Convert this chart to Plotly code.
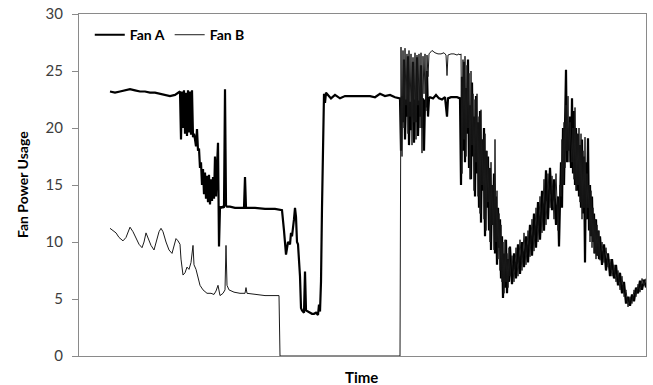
import plotly.graph_objects as go

# ---- data (time index, fan power usage) ----
fan_a_t = [0, 5, 10, 15, 20, 25, 30, 35, 40, 45, 50, 55, 60, 65, 68, 70,
           71, 72, 73, 74, 75, 76, 77, 78, 79, 80, 81, 82, 83,
           84, 85, 86, 87, 88, 89, 90, 91, 92, 93, 94, 95, 96, 97, 98, 99, 100,
           101, 102, 103, 104, 105, 106, 107, 108, 109, 110, 111, 113, 114, 115, 116, 117,
           120, 125, 130, 134, 135, 136, 145, 155, 165, 172,
           174, 175, 176, 178, 180, 181, 182, 184, 185, 186, 187, 188, 190, 191, 192, 194,
           195, 196, 198, 200, 202, 204, 206, 208, 209, 210, 211, 212, 213, 214, 215, 216,
           221, 225, 230, 235, 240, 250, 260, 265, 270, 275, 280, 285, 290,
           291, 292, 293, 294, 295, 296, 297, 298, 299, 300, 301, 302, 303, 304, 305, 306,
           307, 308, 309, 310, 311, 312, 313, 314, 315, 316, 317, 318, 319, 320, 323, 326,
           329, 332, 335, 337, 338, 341, 344, 347, 350,
           351, 352, 353, 354, 355, 356, 357, 358, 359, 360, 361, 362, 363, 364, 365, 366,
           367, 368, 369, 370, 371, 372, 373, 374, 375, 376, 377, 378, 379, 380, 381, 382,
           383, 384, 385, 386, 387, 388, 389, 390, 391, 392, 393, 394, 395, 396, 397, 398,
           399, 400,
           402, 404, 406, 408, 410, 412, 414, 416, 418, 420, 422, 424, 426, 428, 430, 432,
           434, 436, 438, 440, 442, 444, 446, 448, 449, 450,
           451, 452, 453, 454, 455, 456, 457, 458, 459, 460, 461, 462, 463, 464, 465, 466,
           467, 468, 469, 470, 471, 472, 473, 474, 475, 476, 477, 478, 479, 480, 481, 482,
           483, 484, 485, 486, 487, 488, 489, 490,
           492, 494, 496, 498, 500, 502, 504, 506, 508, 510, 512, 514, 516, 518, 520, 522,
           524, 526, 528, 530, 532, 534, 536]
fan_a = [23.2, 23.1, 23.2, 23.3, 23.4, 23.3, 23.2, 23.2, 23.1, 23.1, 23.0, 22.9, 22.8, 22.9, 23.1, 23.2,
         19.0, 23.2, 20.0, 23.3, 19.5, 23.1, 19.3, 23.3, 19.6, 23.2, 19.4, 23.3, 19.2,
         19.5, 19.0, 18.4, 19.9, 18.0, 18.2, 16.5, 17.0, 15.0, 16.4, 14.2, 16.1, 13.8, 15.8, 13.5, 15.9, 13.3,
         15.5, 13.6, 15.7, 13.8, 17.5, 14.0, 16.5, 18.7, 9.6, 13.1, 13.0, 13.1, 13.0, 23.4, 13.2, 13.1,
         13.1, 13.0, 13.0, 13.0, 15.7, 13.0, 13.0, 12.9, 12.9, 12.8,
         11.0, 9.5, 8.9, 10.0, 9.8, 10.8, 10.5, 12.0, 13.0, 12.2, 10.0, 9.8, 7.0, 4.2, 4.0, 3.8,
         7.4, 4.0, 3.9, 3.8, 3.7, 3.7, 3.8, 3.6, 4.5, 3.9, 6.5, 13.0, 21.0, 23.0, 22.2, 23.1,
         22.6, 22.9, 22.6, 22.8, 22.8, 22.8, 22.8, 22.7, 23.0, 22.8, 22.9, 22.7, 22.6,
         18.0, 22.8, 20.5, 26.0, 19.0, 22.5, 21.0, 26.3, 18.5, 22.3, 19.8, 22.0, 25.8, 18.7, 22.5, 20.5,
         26.2, 19.3, 22.4, 21.0, 25.5, 20.0, 22.6, 18.0, 22.5, 21.8, 25.0, 21.0, 22.6, 22.7, 22.6, 22.9,
         22.6, 22.5, 22.7, 21.0, 22.6, 22.7, 22.7, 22.7, 22.6,
         15.0, 24.5, 18.0, 25.8, 17.0, 23.5, 19.5, 26.0, 16.5, 22.0, 15.5, 24.0, 17.5, 21.0, 14.0, 22.8,
         16.0, 20.5, 13.0, 21.5, 11.7, 19.0, 14.5, 20.0, 10.5, 18.0, 13.0, 17.5, 11.0, 16.5, 9.3, 15.0,
         11.5, 16.0, 9.0, 14.0, 8.0, 13.0, 9.5, 12.0, 6.8, 10.5, 5.1, 9.0, 6.0, 10.2, 5.5, 8.5,
         6.5, 9.6,
         6.3, 9.0, 6.8, 9.8, 7.2, 10.0, 7.8, 10.5, 8.2, 11.5, 8.8, 12.5, 9.5, 13.5, 10.2, 14.5,
         11.0, 16.3, 12.0, 16.5, 12.8, 15.5, 11.5, 14.0, 9.6, 13.5,
         17.0, 13.0, 20.0, 15.0, 21.5, 25.1, 17.0, 20.0, 18.0, 21.0, 16.5, 22.6, 16.0, 21.5, 15.0, 20.0,
         14.5, 19.5, 14.0, 18.5, 13.0, 19.0, 12.5, 17.5, 8.2, 17.0, 12.0, 19.1, 11.0, 15.0, 10.5, 14.0,
         10.0, 12.5, 9.0, 12.0, 8.8, 11.0, 8.5, 10.5,
         8.0, 9.8, 7.5, 9.0, 7.0, 8.5, 6.8, 8.0, 6.2, 7.3, 5.5, 6.5, 4.6, 5.2, 4.4, 5.4,
         4.8, 6.0, 5.5, 6.6, 5.8, 6.7, 6.0]

fan_b_t = [0, 3, 6, 9, 13, 16, 20, 23, 26, 29, 32, 34, 36, 38, 41, 44,
           46, 49, 51, 53, 56, 59, 62, 64, 66, 68, 70, 71, 72, 73, 75, 77,
           79, 81, 83, 84, 86, 88, 90, 93, 97, 101, 104, 106, 108, 110, 113, 115,
           116, 117, 119, 124, 130, 135, 136, 137, 145, 155, 165, 169, 170, 290,
           291, 292, 293, 294, 295, 296, 297, 298, 299, 300, 301, 302, 303, 304, 305, 306,
           307, 308, 309, 310, 311, 312, 313, 314, 315, 316, 317, 318, 319, 320, 322, 325,
           328, 331, 334, 336, 337, 338, 341, 344, 347, 349, 350,
           351, 352, 353, 354, 355, 356, 357, 358, 359, 360, 361, 362, 363, 364, 365, 366,
           367, 368, 369, 370, 371, 372, 373, 374, 375, 376, 377, 378, 379, 380, 381, 382,
           383, 384, 385, 386, 387, 388, 389, 390, 391, 392, 393, 394, 395, 396, 397, 398,
           399, 400,
           402, 404, 406, 408, 410, 412, 414, 416, 418, 420, 422, 424, 426, 428, 430, 432,
           434, 436, 438, 440, 442, 444, 446, 448, 450,
           451, 452, 453, 454, 455, 456, 457, 458, 459, 460, 461, 462, 463, 464, 465, 466,
           467, 468, 469, 470, 471, 472, 473, 474, 475, 476, 477, 478, 479, 480, 481, 482,
           483, 484, 485, 486, 487, 488, 489, 490,
           492, 494, 496, 498, 500, 502, 504, 506, 508, 510, 512, 514, 516, 518, 520, 522,
           524, 526, 528, 530, 532, 534, 536]
fan_b = [11.2, 11.0, 10.8, 10.4, 10.1, 10.4, 11.3, 10.9, 10.3, 9.8, 9.5, 10.0, 10.8, 10.4, 9.7, 9.3,
         9.9, 10.9, 11.2, 10.9, 10.0, 9.3, 9.0, 9.6, 10.3, 10.1, 9.8, 8.5, 7.5, 7.1, 7.3, 7.8,
         7.6, 8.2, 9.7, 8.0, 7.6, 7.0, 6.2, 5.8, 5.5, 5.5, 5.4, 5.7, 6.2, 5.3, 5.5, 5.8,
         9.7, 6.2, 5.8, 5.6, 5.5, 5.5, 6.0, 5.5, 5.4, 5.3, 5.3, 5.3, 0.0, 0.0,
         27.1, 17.5, 26.8, 20.0, 27.0, 22.0, 26.5, 19.5, 26.8, 21.0, 26.5, 18.5, 26.2, 20.5, 26.6, 19.0,
         26.4, 22.0, 26.5, 20.0, 26.6, 17.8, 26.3, 23.0, 26.5, 21.5, 26.4, 24.5, 26.5, 26.6, 26.8, 26.6,
         26.5, 26.5, 26.6, 26.4, 24.6, 26.4, 26.5, 26.5, 26.4, 26.5, 26.4,
         26.5, 16.0, 26.0, 19.0, 26.3, 17.5, 25.5, 20.0, 24.8, 15.5, 25.0, 18.5, 23.0, 14.5, 22.5, 17.0,
         23.0, 14.0, 21.0, 12.5, 21.6, 15.0, 19.0, 12.0, 19.5, 11.0, 18.0, 13.5, 16.5, 10.0, 17.0, 11.5,
         15.0, 9.3, 19.0, 10.0, 14.5, 8.5, 12.5, 7.5, 11.5, 6.5, 10.0, 5.5, 10.2, 6.5, 9.0, 6.0,
         9.5, 7.0,
         8.8, 6.5, 9.5, 7.0, 10.2, 7.5, 10.8, 8.0, 11.0, 8.7, 12.0, 9.2, 13.0, 10.0, 14.0, 10.8,
         15.5, 11.5, 16.0, 13.0, 15.8, 12.0, 16.0, 11.0, 15.0,
         14.0, 19.0, 15.0, 20.5, 16.5, 22.0, 18.0, 22.8, 17.0, 20.5, 18.5, 17.0, 20.0, 15.5, 21.8, 14.5,
         19.5, 15.0, 20.0, 13.5, 19.5, 12.0, 18.0, 13.0, 19.2, 12.0, 16.0, 13.0, 15.0, 10.0, 14.5, 9.5,
         13.0, 9.0, 12.0, 8.5, 11.5, 8.8, 11.0, 8.4,
         10.0, 8.2, 9.5, 7.8, 8.5, 7.0, 8.0, 6.5, 7.5, 5.8, 7.0, 5.2, 5.8, 4.3, 5.2, 4.6,
         5.8, 5.2, 6.3, 5.6, 6.8, 6.2, 6.8]

y_ticks = [0, 5, 10, 15, 20, 25, 30]

FONT = "Lato, 'Open Sans', sans-serif"

fig = go.Figure()
fig.add_trace(go.Scatter(x=fan_a_t, y=fan_a, mode="lines", name="Fan A",
                         line=dict(color="#000000", width=2.2)))
fig.add_trace(go.Scatter(x=fan_b_t, y=fan_b, mode="lines", name="Fan B",
                         line=dict(color="#1a1a1a", width=1)))

fig.update_layout(
    width=653, height=385,
    margin=dict(l=79, r=7, t=14, b=29),
    paper_bgcolor="white", plot_bgcolor="white",
    showlegend=True,
    legend=dict(orientation="h", x=0.019, y=0.985, xanchor="left", yanchor="top",
                bgcolor="rgba(0,0,0,0)", itemwidth=30,
                font=dict(family=FONT, size=14, color="#000000", weight="bold")),
    xaxis=dict(range=[-31, 536], showgrid=False, zeroline=False, showticklabels=False,
               ticks="", showline=True, linecolor="#8a8a8a", linewidth=1, mirror=True,
               automargin=False),
    yaxis=dict(range=[0, 30], tickvals=y_ticks, showgrid=False, zeroline=False,
               ticks="outside", ticklen=6, tickcolor="#8a8a8a",
               tickfont=dict(family=FONT, size=15, color="#3d3d3d"),
               ticklabelstandoff=6,
               showline=True, linecolor="#8a8a8a", linewidth=1, mirror=True,
               automargin=False),
    annotations=[
        dict(text="<b>Fan Power Usage</b>", xref="paper", yref="paper",
             x=-0.1005, y=0.5, xanchor="center", yanchor="middle", textangle=-90,
             showarrow=False, font=dict(family=FONT, size=14, color="#000000")),
        dict(text="<b>Time</b>", xref="paper", yref="paper",
             x=0.498, y=-0.0614, xanchor="center", yanchor="middle",
             showarrow=False, font=dict(family=FONT, size=15, color="#000000")),
    ],
)

fig.write_html("out.html", config={"displayModeBar": False},
               post_script="document.body.style.margin='0';document.body.style.padding='0';")
